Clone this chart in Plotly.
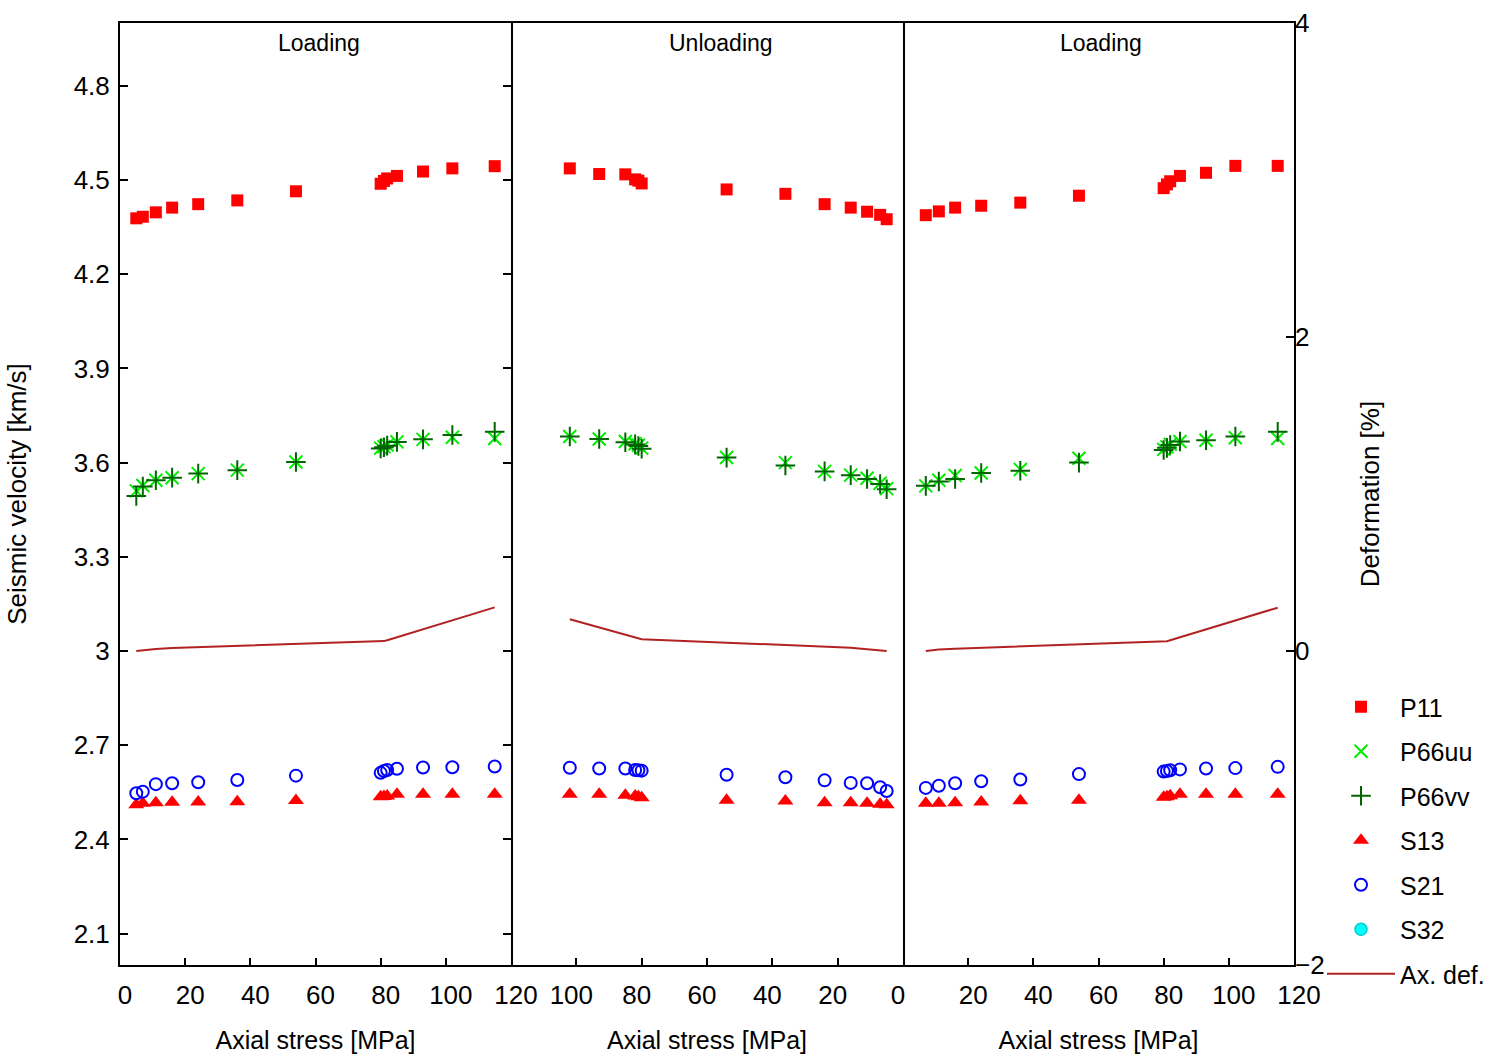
import plotly.graph_objects as go

# ---- Loading (first cycle) ----
stress_load1 = [5, 7, 11, 16, 24, 36, 54, 80, 81, 82, 85, 93, 102, 115]
p11_load1 = [4.378, 4.383, 4.397, 4.412, 4.423, 4.435, 4.464, 4.488, 4.497, 4.505, 4.513, 4.527, 4.537, 4.544]
p66uu_load1 = [3.510, 3.527, 3.544, 3.552, 3.565, 3.576, 3.602, 3.646, 3.651, 3.656, 3.666, 3.674, 3.681, 3.677]
p66vv_load1 = [3.494, 3.524, 3.544, 3.552, 3.565, 3.576, 3.602, 3.645, 3.649, 3.654, 3.666, 3.674, 3.688, 3.698]
s13_load1 = [2.510, 2.515, 2.517, 2.518, 2.519, 2.520, 2.524, 2.536, 2.537, 2.538, 2.544, 2.544, 2.544, 2.544]
s21_load1 = [2.547, 2.552, 2.576, 2.579, 2.582, 2.589, 2.603, 2.612, 2.618, 2.621, 2.625, 2.629, 2.630, 2.632]
axdef_load1 = [0.0, 0.005, 0.012, 0.019, 0.024, 0.032, 0.043, 0.062, 0.063, 0.069, 0.088, 0.139, 0.196, 0.278]

# ---- Unloading ----
stress_unload = [102, 93, 85, 82, 81, 80, 54, 36, 24, 16, 11, 7, 5]
p11_unload = [4.537, 4.519, 4.518, 4.502, 4.498, 4.489, 4.470, 4.456, 4.423, 4.412, 4.399, 4.389, 4.375]
p66uu_unload = [3.683, 3.675, 3.667, 3.660, 3.655, 3.646, 3.616, 3.600, 3.572, 3.560, 3.550, 3.534, 3.517]
p66vv_unload = [3.683, 3.675, 3.665, 3.658, 3.653, 3.644, 3.616, 3.591, 3.572, 3.560, 3.548, 3.532, 3.515]
s13_unload = [2.544, 2.544, 2.541, 2.538, 2.536, 2.533, 2.525, 2.522, 2.517, 2.517, 2.515, 2.512, 2.510]
s21_unload = [2.628, 2.626, 2.626, 2.621, 2.620, 2.619, 2.606, 2.598, 2.588, 2.580, 2.579, 2.566, 2.554]
axdef_unload = [0.202, 0.150, 0.104, 0.087, 0.081, 0.075, 0.053, 0.038, 0.028, 0.021, 0.011, 0.004, 0.0]

# ---- Loading (second cycle) ----
stress_load2 = [7, 11, 16, 24, 36, 54, 80, 81, 82, 85, 93, 102, 115]
p11_load2 = [4.388, 4.400, 4.412, 4.418, 4.428, 4.450, 4.474, 4.486, 4.496, 4.513, 4.523, 4.545, 4.545]
p66uu_load2 = [3.526, 3.544, 3.559, 3.567, 3.578, 3.614, 3.642, 3.650, 3.658, 3.667, 3.671, 3.679, 3.677]
p66vv_load2 = [3.526, 3.540, 3.548, 3.567, 3.574, 3.600, 3.640, 3.647, 3.656, 3.667, 3.671, 3.683, 3.698]
s13_load2 = [2.515, 2.515, 2.517, 2.519, 2.523, 2.525, 2.534, 2.536, 2.539, 2.544, 2.544, 2.544, 2.544]
s21_load2 = [2.564, 2.571, 2.579, 2.585, 2.591, 2.608, 2.616, 2.618, 2.620, 2.623, 2.626, 2.627, 2.631]
axdef_load2 = [0.0, 0.009, 0.015, 0.021, 0.030, 0.043, 0.060, 0.062, 0.068, 0.087, 0.138, 0.196, 0.276]

# S32 has no readings in these runs (legend entry only)
s32_stress = [None]
s32_values = [None]

panel_titles = ["Loading", "Unloading", "Loading"]
velocity_ticks = [2.1, 2.4, 2.7, 3.0, 3.3, 3.6, 3.9, 4.2, 4.5, 4.8]
velocity_ticktext = ["2.1", "2.4", "2.7", "3", "3.3", "3.6", "3.9", "4.2", "4.5", "4.8"]
deformation_ticks = [-2, 0, 2, 4]

FONT = "Liberation Sans, Arial, sans-serif"

panels = [
    ("x", "y", "y2", stress_load1, p11_load1, p66uu_load1, p66vv_load1, s13_load1, s21_load1, axdef_load1),
    ("x2", "y3", "y5", stress_unload, p11_unload, p66uu_unload, p66vv_unload, s13_unload, s21_unload, axdef_unload),
    ("x3", "y4", "y6", stress_load2, p11_load2, p66uu_load2, p66vv_load2, s13_load2, s21_load2, axdef_load2),
]

styles = {
    "P11": dict(symbol="square", size=12, color="#ff0000"),
    "P66uu": dict(symbol="x-thin-open", size=13, color="#00ee00", line=dict(width=2, color="#00ee00")),
    "P66vv": dict(symbol="cross-thin-open", size=14, color="#006400", line=dict(width=2, color="#006400")),
    "S13": dict(symbol="triangle-up", size=14, color="#ff0000"),
    "S21": dict(symbol="circle-open", size=12, color="#0000ff", line=dict(width=2, color="#0000ff")),
    "S32": dict(symbol="circle", size=12, color="#00ffff", line=dict(width=1.5, color="#00cccc")),
}

fig = go.Figure()

for i, (xa, ya, yd, st, p11, uu, vv, s13, s21, dfm) in enumerate(panels):
    first = i == 0
    for name, vals in [("P11", p11), ("P66uu", uu), ("P66vv", vv), ("S13", s13), ("S21", s21)]:
        fig.add_trace(go.Scatter(
            x=st, y=vals, mode="markers", name=name, legendgroup=name,
            showlegend=first, marker=styles[name], xaxis=xa, yaxis=ya,
        ))
    if first:
        fig.add_trace(go.Scatter(
            x=s32_stress, y=s32_values, mode="markers", name="S32", legendgroup="S32",
            marker=styles["S32"], xaxis=xa, yaxis=ya,
        ))
    fig.add_trace(go.Scatter(
        x=st, y=dfm, mode="lines", name="Ax. def.", legendgroup="Ax. def.",
        showlegend=first, line=dict(color="#b22222", width=2), xaxis=xa, yaxis=yd,
    ))

# Reorder so the legend lists the deformation line last
order = ["P11", "P66uu", "P66vv", "S13", "S21", "S32", "Ax. def."]
fig.data = tuple(sorted(fig.data, key=lambda t: order.index(t.name)))

d1 = 391 / 1174
d2 = 783 / 1174

xcommon = dict(
    showline=True, linecolor="black", linewidth=2, mirror=True,
    ticks="inside", ticklen=7, tickwidth=1.5, tickcolor="black",
    showgrid=False, zeroline=False, automargin=False,
    tickfont=dict(family=FONT, size=26, color="black"),
    ticklabelshift=5, ticklabelstandoff=6,
    title=dict(text="Axial stress [MPa]", font=dict(family=FONT, size=25, color="black"), standoff=22),
)

fig.update_layout(
    width=1494, height=1061,
    margin=dict(l=120, r=200, t=23, b=96, autoexpand=False),
    paper_bgcolor="white", plot_bgcolor="white",
    xaxis=dict(domain=[0, d1], range=[0, 120], tickvals=[0, 20, 40, 60, 80, 100, 120], anchor="y", **xcommon),
    xaxis2=dict(domain=[d1, d2], range=[120, 0], tickvals=[0, 20, 40, 60, 80, 100], anchor="y3", **xcommon),
    xaxis3=dict(domain=[d2, 1], range=[0, 120], tickvals=[20, 40, 60, 80, 100, 120], anchor="y4", **xcommon),
    yaxis=dict(
        range=[2.0, 5.0], tickvals=velocity_ticks, ticktext=velocity_ticktext, anchor="x",
        showline=True, linecolor="black", linewidth=2, mirror="ticks",
        ticks="inside", ticklen=8, tickwidth=1.5, tickcolor="black",
        showgrid=False, zeroline=False, automargin=False,
        tickfont=dict(family=FONT, size=26, color="black"), ticklabelstandoff=3,
        title=dict(text="Seismic velocity [km/s]", font=dict(family=FONT, size=26, color="black"), standoff=40),
    ),
    yaxis3=dict(matches="y", anchor="x2", side="right", showline=True, linecolor="black", linewidth=2,
                ticks="", showticklabels=False, showgrid=False, zeroline=False, automargin=False),
    yaxis4=dict(matches="y", anchor="x3", side="right", showline=True, linecolor="black", linewidth=2,
                ticks="", showticklabels=False, showgrid=False, zeroline=False, automargin=False),
    yaxis2=dict(overlaying="y", anchor="x", range=[-2, 4], visible=False),
    yaxis5=dict(overlaying="y3", anchor="x2", range=[-2, 4], visible=False),
    yaxis6=dict(
        overlaying="y4", anchor="x3", side="right", range=[-2, 4], tickvals=deformation_ticks,
        ticks="inside", ticklen=8, tickwidth=1.5, tickcolor="black",
        showgrid=False, zeroline=False, showline=False, automargin=False,
        tickfont=dict(family=FONT, size=26, color="black"),
        title=dict(text="Deformation [%]", font=dict(family=FONT, size=26, color="black"), standoff=37),
    ),
    legend=dict(
        x=(1322 - 120) / 1174, y=(965 - 684) / 942, xanchor="left", yanchor="top",
        font=dict(family=FONT, size=25, color="black"),
        itemwidth=68, tracegroupgap=9, bgcolor="rgba(0,0,0,0)",
    ),
    showlegend=True,
)

title_pos = [("x domain", 0.509), ("x2 domain", 0.536), ("x3 domain", 0.506)]
for (xref, xpos), txt in zip(title_pos, panel_titles):
    fig.add_annotation(
        text=txt, xref=xref, x=xpos, yref="paper", y=1, yanchor="top", yshift=-5,
        showarrow=False, font=dict(family=FONT, size=23, color="black"),
    )

fig.write_html("out.html")
